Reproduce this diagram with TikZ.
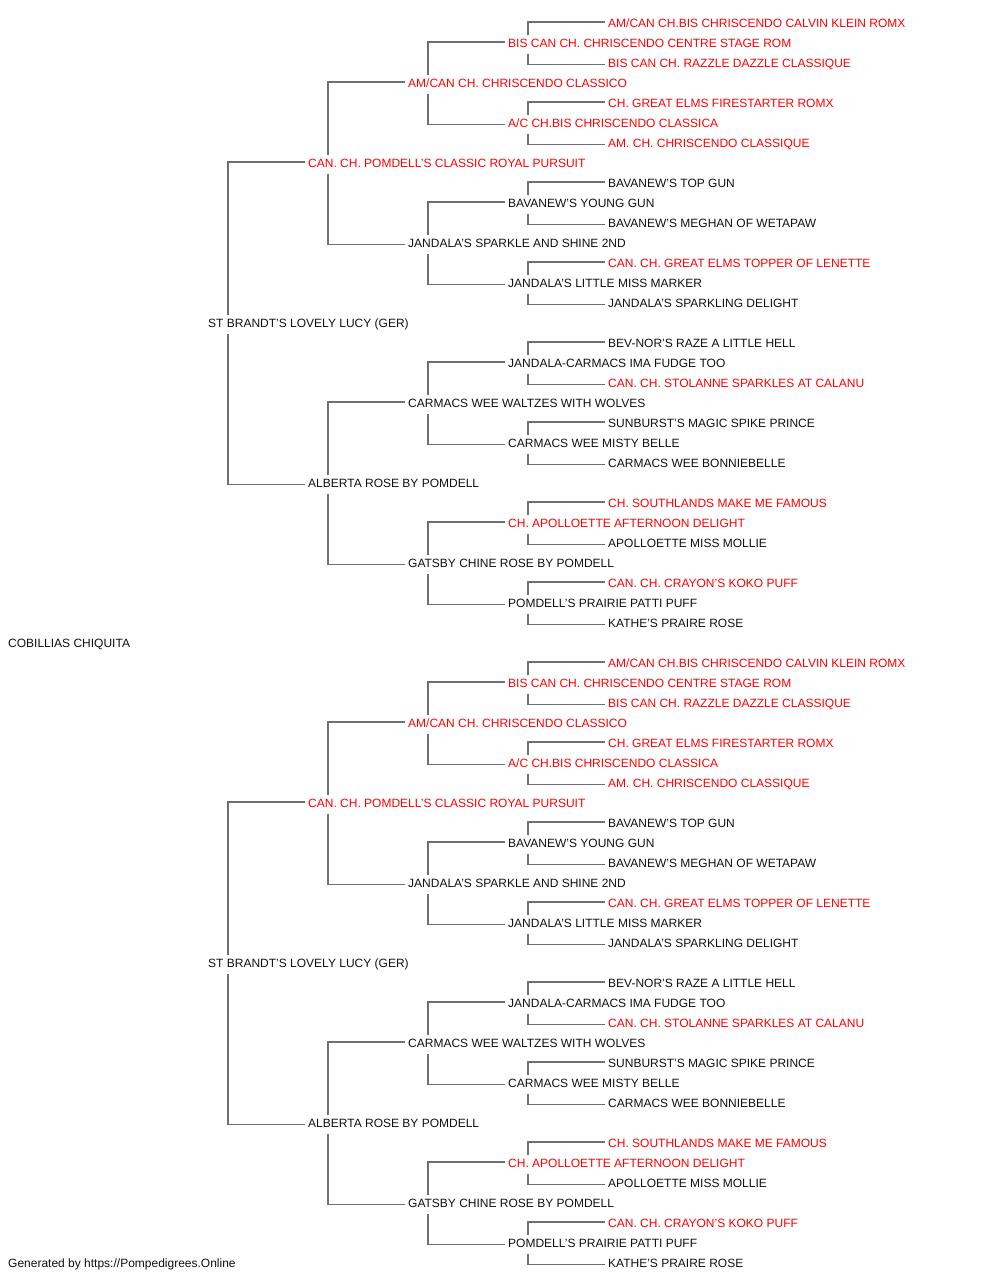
\documentclass[tikz,border=0pt]{standalone}
\usepackage{fontspec}
\setmainfont{Liberation Sans}
\definecolor{pred}{HTML}{FF0000}
\definecolor{pline}{HTML}{707070}
\definecolor{ptext}{HTML}{111111}
\tikzset{
  dog/.style={anchor=west,inner sep=0pt,text height=8.6pt,text depth=0pt,font=\fontsize{12}{14}\selectfont,text=ptext},
  champ/.style={dog,text=pred},
  link/.style={draw=pline,line width=1.3pt}
}
% node: name, style, column x, row k, offset, text
\newcommand\pn[6]{\node[#2] (#1) at (#3,{#5+23.5+20*#4}) {#6};}
\newcommand\con[3]{%
  \draw[link] ([xshift=-3pt,yshift=1.5pt]#2.west) -| ([xshift=20pt,yshift=8.5pt]#1.west);
  \draw[link] ([xshift=-3pt,yshift=-1pt]#3.west) -| ([xshift=20pt,yshift=-10pt]#1.west);}
\newcommand\halftree[2]{%
  \pn{#1s}{dog}{208}{15}{#2}{ST BRANDT'S LOVELY LUCY (GER)}
  \pn{#1a}{champ}{308}{7}{#2}{CAN. CH. POMDELL'S CLASSIC ROYAL PURSUIT}
  \pn{#1b}{dog}{308}{23}{#2}{ALBERTA ROSE BY POMDELL}
  \pn{#1aa}{champ}{408}{3}{#2}{AM/CAN CH. CHRISCENDO CLASSICO}
  \pn{#1ab}{dog}{408}{11}{#2}{JANDALA'S SPARKLE AND SHINE 2ND}
  \pn{#1ba}{dog}{408}{19}{#2}{CARMACS WEE WALTZES WITH WOLVES}
  \pn{#1bb}{dog}{408}{27}{#2}{GATSBY CHINE ROSE BY POMDELL}
  \pn{#1aaa}{champ}{508}{1}{#2}{BIS CAN CH. CHRISCENDO CENTRE STAGE ROM}
  \pn{#1aab}{champ}{508}{5}{#2}{A/C CH.BIS CHRISCENDO CLASSICA}
  \pn{#1aba}{dog}{508}{9}{#2}{BAVANEW'S YOUNG GUN}
  \pn{#1abb}{dog}{508}{13}{#2}{JANDALA'S LITTLE MISS MARKER}
  \pn{#1baa}{dog}{508}{17}{#2}{JANDALA-CARMACS IMA FUDGE TOO}
  \pn{#1bab}{dog}{508}{21}{#2}{CARMACS WEE MISTY BELLE}
  \pn{#1bba}{champ}{508}{25}{#2}{CH. APOLLOETTE AFTERNOON DELIGHT}
  \pn{#1bbb}{dog}{508}{29}{#2}{POMDELL'S PRAIRIE PATTI PUFF}
  \pn{#1aaaa}{champ}{608}{0}{#2}{AM/CAN CH.BIS CHRISCENDO CALVIN KLEIN ROMX}
  \pn{#1aaab}{champ}{608}{2}{#2}{BIS CAN CH. RAZZLE DAZZLE CLASSIQUE}
  \pn{#1aaba}{champ}{608}{4}{#2}{CH. GREAT ELMS FIRESTARTER ROMX}
  \pn{#1aabb}{champ}{608}{6}{#2}{AM. CH. CHRISCENDO CLASSIQUE}
  \pn{#1abaa}{dog}{608}{8}{#2}{BAVANEW'S TOP GUN}
  \pn{#1abab}{dog}{608}{10}{#2}{BAVANEW'S MEGHAN OF WETAPAW}
  \pn{#1abba}{champ}{608}{12}{#2}{CAN. CH. GREAT ELMS TOPPER OF LENETTE}
  \pn{#1abbb}{dog}{608}{14}{#2}{JANDALA'S SPARKLING DELIGHT}
  \pn{#1baaa}{dog}{608}{16}{#2}{BEV-NOR'S RAZE A LITTLE HELL}
  \pn{#1baab}{champ}{608}{18}{#2}{CAN. CH. STOLANNE SPARKLES AT CALANU}
  \pn{#1baba}{dog}{608}{20}{#2}{SUNBURST'S MAGIC SPIKE PRINCE}
  \pn{#1babb}{dog}{608}{22}{#2}{CARMACS WEE BONNIEBELLE}
  \pn{#1bbaa}{champ}{608}{24}{#2}{CH. SOUTHLANDS MAKE ME FAMOUS}
  \pn{#1bbab}{dog}{608}{26}{#2}{APOLLOETTE MISS MOLLIE}
  \pn{#1bbba}{champ}{608}{28}{#2}{CAN. CH. CRAYON'S KOKO PUFF}
  \pn{#1bbbb}{dog}{608}{30}{#2}{KATHE'S PRAIRE ROSE}
  \con{#1s}{#1a}{#1b}
  \con{#1a}{#1aa}{#1ab}
  \con{#1b}{#1ba}{#1bb}
  \con{#1aa}{#1aaa}{#1aab}
  \con{#1ab}{#1aba}{#1abb}
  \con{#1ba}{#1baa}{#1bab}
  \con{#1bb}{#1bba}{#1bbb}
  \con{#1aaa}{#1aaaa}{#1aaab}
  \con{#1aab}{#1aaba}{#1aabb}
  \con{#1aba}{#1abaa}{#1abab}
  \con{#1abb}{#1abba}{#1abbb}
  \con{#1baa}{#1baaa}{#1baab}
  \con{#1bab}{#1baba}{#1babb}
  \con{#1bba}{#1bbaa}{#1bbab}
  \con{#1bbb}{#1bbba}{#1bbbb}
}
\begin{document}
\begin{tikzpicture}[x=1pt,y=-1pt]
\useasboundingbox (0,0) rectangle (1000,1280);
\fill[white] (0,0) rectangle (1000,1280);
\halftree{t}{0}
\halftree{u}{640}
\pn{root}{dog}{8}{31}{0}{COBILLIAS CHIQUITA}
\pn{footer}{dog}{8}{62}{0}{Generated by https://Pompedigrees.Online}
\end{tikzpicture}
\end{document}
